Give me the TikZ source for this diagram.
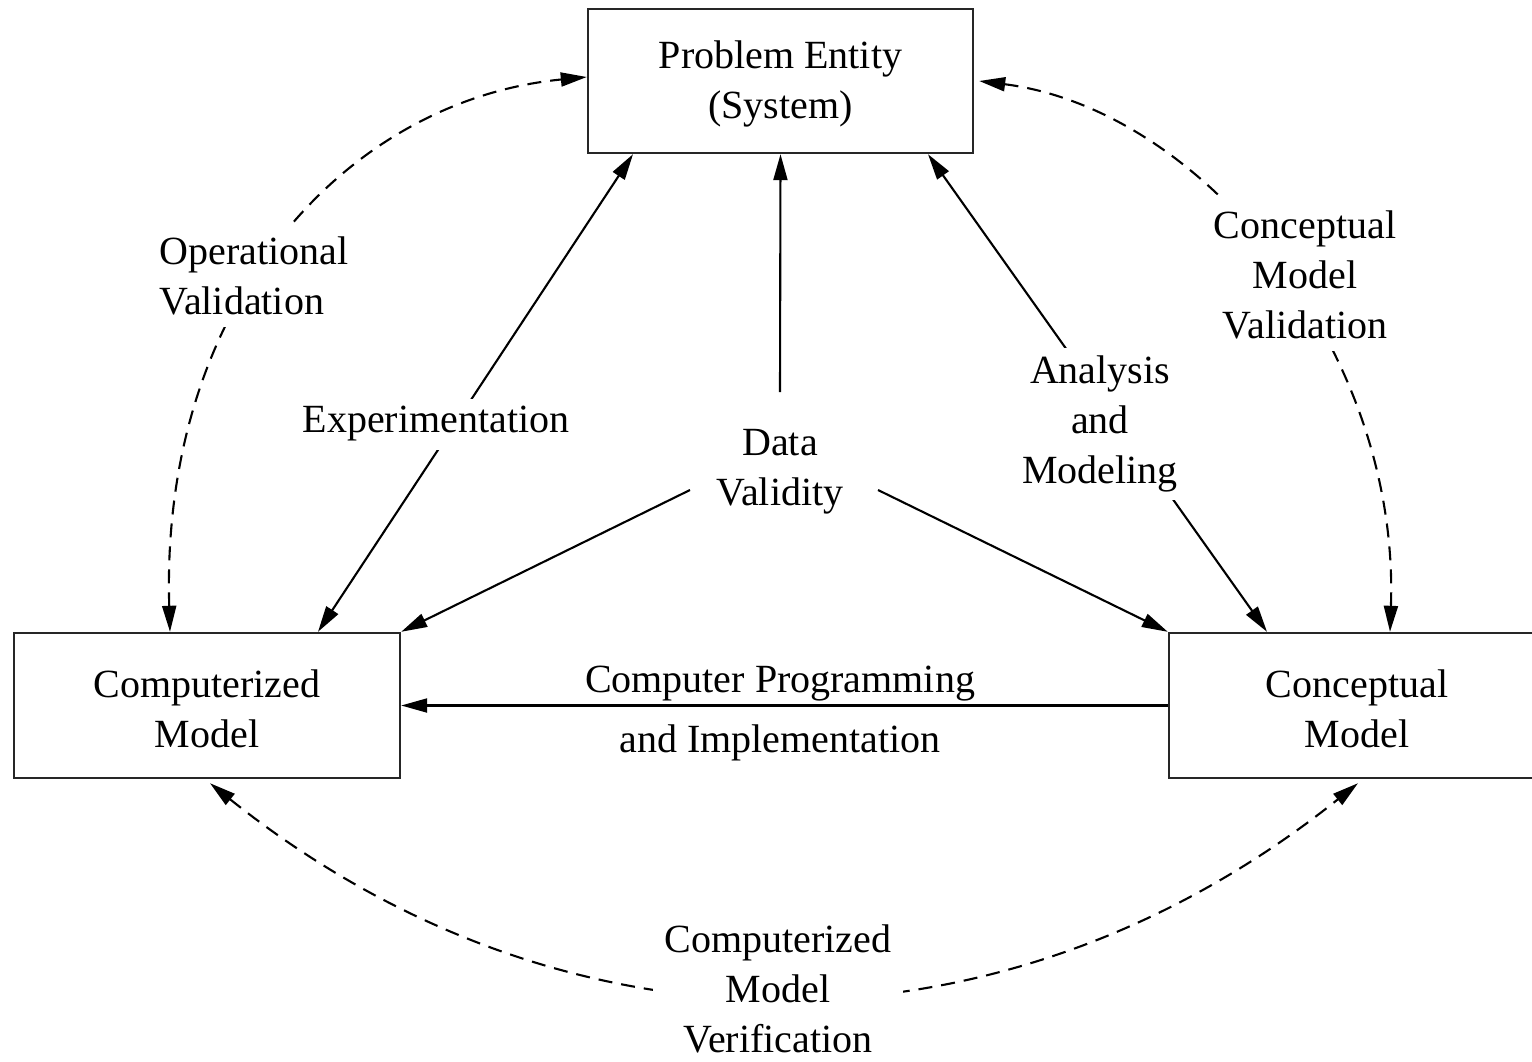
\documentclass[tikz,border=0pt]{standalone}
\usepackage{fontspec}
\setmainfont{Liberation Serif}
\usetikzlibrary{arrows.meta}
\begin{document}
\begin{tikzpicture}[x=0.5pt,y=-0.5pt,
  box/.style={draw=black!85,line width=1.2pt,align=center,inner sep=0pt},
  lbl/.style={align=center,fill=white,inner sep=4pt},
  conn/.style={line width=1.05pt,-{Triangle[length=13pt,width=7pt]}},
  bconn/.style={line width=1.05pt,{Triangle[length=13pt,width=7pt]}-{Triangle[length=13pt,width=7pt]}},
  dconn/.style={bconn,dash pattern=on 7pt off 4.5pt},
  every node/.style={font=\fontsize{20}{25}\selectfont}]
\useasboundingbox (0,0) rectangle (1532,1061);
% boxes
\node[box,minimum width=192.5pt,minimum height=72pt] (pe) at (780.5,81) {\rule{0pt}{17pt}Problem Entity\\(System)};
\node[box,minimum width=193pt,minimum height=72.5pt] (cm) at (207,705.5) {\rule{0pt}{17pt}Computerized\\Model};
\node[box,minimum width=193pt,minimum height=72.5pt] (cp) at (1362,705.5) {\rule{0pt}{17pt}\hspace*{-5pt}Conceptual\\\hspace*{-5pt}Model};
% named coordinates for Data Validity
\coordinate (dvt) at (780,392);
\coordinate (dvl) at (690,490);
\coordinate (dvr) at (878,490);
% solid connectors
\draw[bconn] ([xshift=55.5pt]cm.north) -- ([xshift=-73.75pt]pe.south);
\draw[bconn] ([xshift=-47.5pt]cp.north) -- ([xshift=73.75pt]pe.south);
\draw[conn] (dvt) -- (pe.south);
\draw[conn] (dvl) -- (cm.north east);
\draw[conn] (dvr) -- (cp.north west);
\draw[conn] (cp.west) -- (cm.east);
% dashed connectors
\draw[dconn] ([xshift=-18.5pt]cm.north) .. controls +(-10,-333) and +(-237,23) .. ([yshift=2pt]pe.west);
\draw[dconn] ([xshift=2.5pt]pe.east) .. controls +(222,28) and +(10,-283) .. ([xshift=14pt]cp.north);
\draw[dconn] ([xshift=1.5pt,yshift=-2pt]cm.south) .. controls +(355,284) and +(-355,284) .. ([xshift=-2pt,yshift=-2pt]cp.south);
% labels
\node[lbl] (lexp) at (436,424) {Experimentation};
\node[lbl,inner sep=0pt] (ldv) at (780,472) {Data\\Validity};
\node[lbl] (lam) at (1100,424) {Analysis\\and\\Modeling};
\node[align=center,inner sep=0pt] (lcp) at (780,714) {Computer Programming\\[5pt]and Implementation};
\node[lbl,align=left,inner sep=6pt] (lov) at (254,276) {Operational\\Validation};
\node[lbl,inner sep=6pt] (lcmv) at (1305,275) {Conceptual\\Model\\Validation};
\node[lbl,inner sep=6pt] (lver) at (778,989) {Computerized\\Model\\Verification};
\end{tikzpicture}
\end{document}
